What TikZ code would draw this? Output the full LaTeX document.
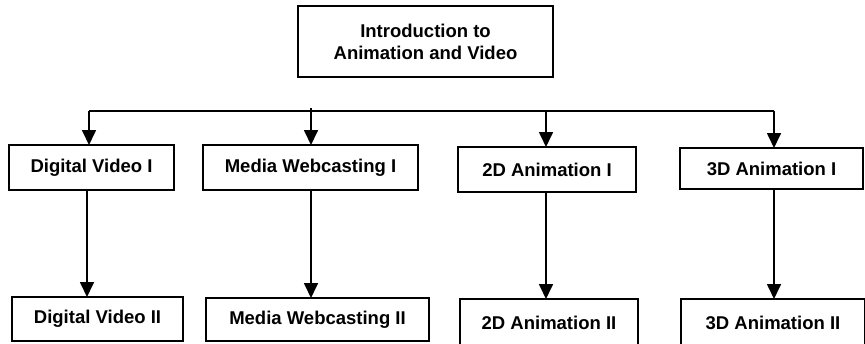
\documentclass[tikz,border=0pt]{standalone}
\usepackage{fontspec}
\setmainfont{Liberation Sans}
\usetikzlibrary{arrows.meta}

\tikzset{
  course/.style={draw=black, line width=2.2pt, inner sep=0pt, outer sep=0pt,
    align=center, font=\fontsize{18.5}{22}\selectfont\bfseries},
  link/.style={draw=black, line width=1.7pt},
  flow/.style={link, -{Triangle[width=14pt,length=15pt]}}
}

\begin{document}
\begin{tikzpicture}[x=1pt, y=-1pt]
  \useasboundingbox (0,0) rectangle (865,343);
  \clip (0,0) rectangle (865,343);

  % title box
  \node[course, minimum width=255pt, minimum height=71pt] (intro) at (425.5,41.5)
    {Introduction to\\Animation and Video};

  % first-level courses
  \node[course, minimum width=165pt, minimum height=45pt] (dv1) at (91.5,167.5) {Digital Video I};
  \node[course, minimum width=215pt, minimum height=45pt] (mw1) at (310.5,167.5) {Media Webcasting I};
  \node[course, minimum width=178pt, minimum height=45pt] (an2d1) at (547,169.5) {2D Animation I};
  \node[course, minimum width=183pt, minimum height=41pt] (an3d1) at (771.5,168.5) {3D Animation I};

  % second-level courses
  \node[course, minimum width=171pt, minimum height=44pt] (dv2) at (97.5,319) {Digital Video II};
  \node[course, minimum width=223pt, minimum height=43pt] (mw2) at (317.5,319.5) {Media Webcasting II};
  \node[course, minimum width=178pt, minimum height=47pt] (an2d2) at (549,322.5) {2D Animation II};
  \node[course, minimum width=184pt, minimum height=47pt] (an3d2) at (773,322.5) {3D Animation II};

  % distribution bus
  \coordinate (b1) at (89,111);
  \coordinate (b2) at (311,111);
  \coordinate (b3) at (546,111);
  \coordinate (b4) at (774,111);
  \draw[link] (b1) -- (b4);
  \draw[link] (b2) -- ++(0,-3);

  \draw[flow] (b1) -- (b1 |- dv1.north);
  \draw[flow] (b2) -- (b2 |- mw1.north);
  \draw[flow] (b3) -- (b3 |- an2d1.north);
  \draw[flow] (b4) -- (b4 |- an3d1.north);

  % first level to second level
  \draw[flow] ([xshift=-2pt]b1 |- dv1.south) -- ([xshift=-2pt]b1 |- dv2.north);
  \draw[flow] (b2 |- mw1.south) -- (b2 |- mw2.north);
  \draw[flow] (b3 |- an2d1.south) -- (b3 |- an2d2.north);
  \draw[flow] (b4 |- an3d1.south) -- (b4 |- an3d2.north);
\end{tikzpicture}
\end{document}
